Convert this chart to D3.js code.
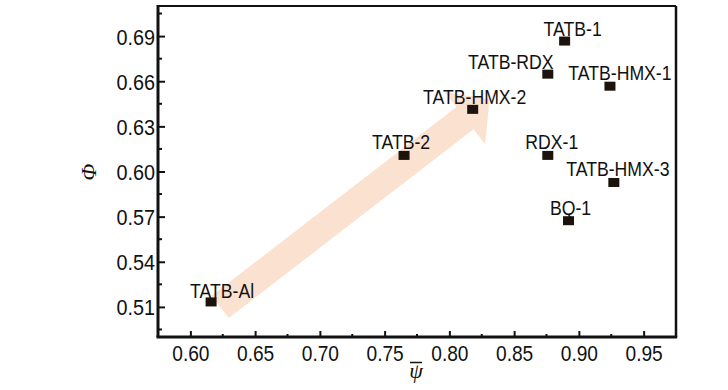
<!DOCTYPE html>
<html><head><meta charset="utf-8">
<script src="https://cdn.jsdelivr.net/npm/d3@7"></script>
<style>body{margin:0;background:#fff}</style>
</head><body>
<svg id="chart" width="728" height="390"></svg>
<script>
const names = ["TATB-1","TATB-RDX","TATB-HMX-1","TATB-HMX-2","TATB-2","RDX-1","TATB-HMX-3","BQ-1","TATB-Al"];
const psiValues = [0.889,0.876,0.924,0.818,0.765,0.876,0.927,0.892,0.616];
const phiValues = [0.6867,0.6647,0.6567,0.6413,0.6107,0.6107,0.5927,0.5673,0.5133];
const xTicks = [0.60,0.65,0.70,0.75,0.80,0.85,0.90,0.95];
const yTicks = [0.51,0.54,0.57,0.60,0.63,0.66,0.69];
const xMinor = [0.625,0.675,0.725,0.775,0.825,0.875,0.925];
const yMinor = [0.495,0.525,0.555,0.585,0.615,0.645,0.675,0.705];
const arrowFrom = [0.623,0.510];
const arrowTo = [0.831,0.648];
// label placement (layout, pixels relative to point)
const labelDx = [8,-37,10,2,-3,4,4,2,11];
const labelDy = [-5,-5,-6,-5,-6,-6,-6,-6,-4];

const svg = d3.select("#chart");
const m = {l:158, t:6, r:676, b:337};
const x = d3.scaleLinear().domain([0.575,0.975]).range([m.l,m.r]);
const y = d3.scaleLinear().domain([0.49,0.71]).range([m.b,m.t]);
const sans = "'Liberation Sans', Arial, sans-serif";
const serif = "'Liberation Serif', 'Times New Roman', serif";

function squeeze(sel, f){ sel.each(function(){ const L=this.getComputedTextLength(); this.setAttribute("textLength", L*f); this.setAttribute("lengthAdjust","spacingAndGlyphs"); }); }

// arrow
(function(){
  const x0=x(arrowFrom[0]), y0=y(arrowFrom[1]), x1=x(arrowTo[0]), y1=y(arrowTo[1]);
  const dx=x1-x0, dy=y1-y0, L=Math.hypot(dx,dy), ux=dx/L, uy=dy/L, nx=-uy, ny=ux;
  const hw=14, hh=33, hl=31;
  const bx=x1-ux*hl, by=y1-uy*hl;
  const pts=[[x0+nx*hw,y0+ny*hw],[bx+nx*hw,by+ny*hw],[bx+nx*hh,by+ny*hh],[x1,y1],[bx-nx*hh,by-ny*hh],[bx-nx*hw,by-ny*hw],[x0-nx*hw,y0-ny*hw]];
  svg.append("path").attr("d","M"+pts.map(p=>p.join(",")).join("L")+"Z").attr("fill","#fbe1cf");
})();

// frame
svg.append("line").attr("x1",m.l).attr("x2",m.r).attr("y1",m.t).attr("y2",m.t).attr("stroke","#111").attr("stroke-width",2.2);
svg.append("line").attr("x1",m.r).attr("x2",m.r).attr("y1",m.t).attr("y2",m.b).attr("stroke","#111").attr("stroke-width",2.5);

// x axis
const gx = svg.append("g").attr("transform",`translate(0,${m.b})`);
gx.call(d3.axisBottom(x).tickValues(xTicks).tickSize(-6).tickFormat(d3.format(".2f")));
gx.select(".domain").attr("stroke","#111").attr("stroke-width",3).attr("d",`M${m.l-1.5},0H${m.r+1.2}`);
gx.selectAll(".tick line").attr("stroke","#111").attr("stroke-width",2);
gx.selectAll(".tick text").attr("y",24).attr("dy",null).attr("font-family",sans).attr("font-size",22).attr("fill","#111").call(squeeze,0.87);
gx.selectAll(".minor").data(xMinor).enter().append("line").attr("x1",d=>x(d)).attr("x2",d=>x(d)).attr("y1",0).attr("y2",-3).attr("stroke","#111").attr("stroke-width",2);

// y axis
const gy = svg.append("g").attr("transform",`translate(${m.l},0)`);
gy.call(d3.axisLeft(y).tickValues(yTicks).tickSize(-7).tickFormat(d3.format(".2f")));
gy.select(".domain").attr("stroke","#111").attr("stroke-width",3).attr("d",`M0,${m.t-1}V${m.b}`);
gy.selectAll(".tick line").attr("stroke","#111").attr("stroke-width",2);
gy.selectAll(".tick text").attr("x",-3).attr("dy","0.36em").attr("font-family",sans).attr("font-size",22).attr("fill","#111").call(squeeze,0.9);
gy.selectAll(".minor").data(yMinor).enter().append("line").attr("y1",d=>y(d)).attr("y2",d=>y(d)).attr("x1",0).attr("x2",4).attr("stroke","#111").attr("stroke-width",2);

// axis titles
svg.append("text").attr("transform","translate(88,172) rotate(-90)").attr("text-anchor","middle").attr("dy","0.35em")
  .attr("font-family",serif).attr("font-style","italic").attr("font-size",22).attr("fill","#111").text("Φ");
svg.append("text").attr("x",416).attr("y",378).attr("text-anchor","middle")
  .attr("font-family",serif).attr("font-style","italic").attr("font-size",22).attr("fill","#111").text("ψ");
svg.append("line").attr("x1",410).attr("x2",422).attr("y1",362.5).attr("y2",362.5).attr("stroke","#111").attr("stroke-width",1.5);

// points
const data = names.map((n,i)=>({n, px:psiValues[i], py:phiValues[i], dx:labelDx[i], dy:labelDy[i]}));
svg.selectAll(".pt").data(data).enter().append("rect").attr("class","pt")
  .attr("x",d=>x(d.px)-5.5).attr("y",d=>y(d.py)-4.5).attr("width",11).attr("height",9).attr("fill","#1c130c");
svg.selectAll(".lbl").data(data).enter().append("text").attr("class","lbl")
  .attr("x",d=>x(d.px)+d.dx).attr("y",d=>y(d.py)+d.dy).attr("text-anchor","middle")
  .attr("font-family",sans).attr("font-size",21).attr("fill","#111").text(d=>d.n).call(squeeze,0.84);
</script>
</body></html>
